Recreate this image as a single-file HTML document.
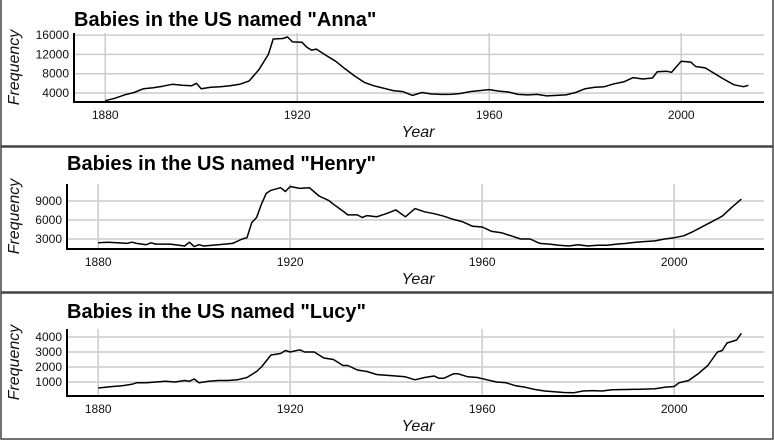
<!DOCTYPE html>
<html><head><meta charset="utf-8"><style>
body{margin:0;background:#fff;width:774px;height:440px;overflow:hidden;font-family:"Liberation Sans",sans-serif}
svg{display:block}
</style></head><body>
<svg id="c" width="774" height="440" xmlns="http://www.w3.org/2000/svg"></svg>
<script>
const annaYears=[1880,1882,1884,1886,1888,1890,1892,1894,1896,1898,1899,1900,1902,1904,1906,1908,1910,1912,1914,1915,1917,1918,1919,1921,1922,1923,1924,1926,1928,1930,1932,1934,1936,1938,1940,1942,1944,1946,1948,1950,1952,1954,1956,1958,1960,1962,1964,1966,1968,1970,1972,1974,1976,1978,1980,1982,1984,1986,1988,1990,1992,1994,1995,1997,1998,2000,2002,2003,2005,2007,2009,2011,2013,2014];
const annaValues=[2400,2900,3600,4100,4900,5100,5400,5800,5600,5500,6000,4900,5200,5300,5500,5800,6500,8800,12000,15200,15300,15600,14600,14500,13500,12900,13100,11800,10600,9000,7500,6200,5500,5000,4500,4300,3500,4100,3800,3700,3700,3900,4300,4500,4700,4400,4200,3700,3600,3700,3400,3500,3600,4100,4900,5200,5300,5900,6300,7200,6900,7100,8400,8500,8300,10600,10400,9500,9200,8000,6800,5700,5300,5600];
const henryYears=[1880,1882,1884,1886,1887,1888,1890,1891,1892,1895,1898,1899,1900,1901,1902,1905,1908,1910,1911,1912,1913,1914,1915,1916,1918,1919,1920,1922,1924,1926,1928,1929,1931,1932,1934,1935,1936,1938,1940,1942,1944,1946,1948,1950,1952,1954,1956,1958,1960,1962,1964,1966,1968,1970,1972,1974,1976,1978,1980,1982,1984,1986,1988,1990,1992,1994,1996,1998,2000,2002,2004,2006,2008,2010,2012,2014];
const henryValues=[2400,2500,2400,2300,2500,2300,2100,2400,2200,2200,1900,2500,1800,2100,1900,2100,2300,3000,3200,5600,6400,8500,10200,10700,11100,10500,11300,11000,11100,9800,9100,8500,7400,6800,6800,6400,6700,6500,7000,7600,6500,7800,7300,7000,6600,6100,5700,5000,4900,4200,4000,3500,3000,3000,2300,2200,2000,1900,2100,1900,2000,2000,2200,2300,2500,2600,2700,3000,3200,3500,4200,5000,5800,6600,8000,9300];
const lucyYears=[1880,1883,1885,1887,1888,1890,1892,1894,1896,1898,1899,1900,1901,1903,1905,1907,1909,1911,1913,1914,1915,1916,1918,1919,1920,1922,1923,1925,1927,1929,1931,1932,1934,1936,1938,1940,1942,1944,1946,1948,1950,1951,1952,1954,1955,1957,1959,1961,1963,1965,1967,1969,1971,1973,1975,1977,1979,1981,1983,1985,1987,1990,1993,1996,1998,2000,2001,2003,2005,2007,2009,2010,2011,2013,2014];
const lucyValues=[600,700,750,850,950,950,1000,1050,1000,1100,1050,1200,950,1050,1100,1100,1150,1300,1700,2000,2400,2800,2900,3100,3000,3150,3000,3000,2600,2500,2100,2100,1800,1700,1500,1450,1400,1350,1150,1300,1400,1250,1250,1550,1550,1350,1300,1150,1000,950,750,650,500,400,350,300,280,400,430,400,480,500,520,550,650,700,950,1100,1550,2100,3000,3100,3600,3800,4250];
const xTicks=[1880,1920,1960,2000];
const annaTicks=[4000,8000,12000,16000];
const henryTicks=[3000,6000,9000];
const lucyTicks=[1000,2000,3000,4000];

const NS="http://www.w3.org/2000/svg";
const svg=document.getElementById('c');
function mk(tag,attrs,parent,text){const e=document.createElementNS(NS,tag);for(const k in attrs)e.setAttribute(k,attrs[k]);if(text!==undefined)e.textContent=text;(parent||svg).appendChild(e);return e;}

function panel(key,name,years,values,ticks,P){
  const g=mk('g',{});
  
  
  const bg=mk('rect',{x:P.bx,y:P.by,width:P.bw,height:P.bh,fill:'#fff',stroke:'#444','stroke-width':1.5},g);
  
  
  const xs=y=>P.left+(y-1873.5)*4.8;
  const ys=v=>P.y0+(v-P.v0)*P.k;
  for(const t of ticks){
    const gl=mk('line',{x1:P.left,x2:P.right,y1:ys(t),y2:ys(t),stroke:'#cccccc','stroke-width':1.5},g);
    
    
    const tl=mk('text',{x:P.left-5,y:ys(t)+4,'text-anchor':'end','font-size':12,fill:'#111'},g,String(t));
    
    
  }
  for(const t of xTicks){
    const gl=mk('line',{x1:xs(t),x2:xs(t),y1:P.top,y2:P.axisY,stroke:'#cccccc','stroke-width':1.5},g);
    
    
    const tl=mk('text',{x:xs(t),y:P.axisY+17,'text-anchor':'middle','font-size':12,fill:'#111'},g,String(t));
    
    
  }
  const d=years.map((y,i)=>(i?'L':'M')+xs(y).toFixed(1)+','+ys(values[i]).toFixed(1)).join('');
  const ln=mk('path',{d:d,fill:'none',stroke:'#000','stroke-width':1.5,'stroke-linejoin':'round'},g);
  
  
  const ax=mk('path',{d:`M${P.left},${P.top}V${P.axisY}H${P.right}`,fill:'none',stroke:'#000','stroke-width':2},g);
  
  
  const ti=mk('text',{x:P.left,y:P.titleY,'font-size':20,'font-weight':'bold',fill:'#000'},g,'Babies in the US named "'+name+'"');
  
  
  const xl=mk('text',{x:418,y:P.axisY+35,'text-anchor':'middle','font-size':16,'font-style':'italic',fill:'#111'},g,'Year');
  
  
  const cy=(P.top+P.axisY)/2;
  const yl=mk('text',{x:0,y:0,transform:`translate(19,${cy}) rotate(-90)`,'text-anchor':'middle','font-size':16,'font-style':'italic',fill:'#111'},g,'Frequency');
  
  
}
panel('anna','Anna',annaYears,annaValues,annaTicks,{bx:1,by:-1,bw:772,bh:147,left:74,right:764,top:33,axisY:102,y0:93,v0:4000,k:-19.3/4000,titleY:26});
panel('henry','Henry',henryYears,henryValues,henryTicks,{bx:1,by:147,bw:772,bh:145,left:67,right:764,top:184,axisY:249,y0:239,v0:3000,k:-6.33/1000,titleY:170});
panel('lucy','Lucy',lucyYears,lucyValues,lucyTicks,{bx:1,by:293,bw:772,bh:146,left:67,right:764,top:329,axisY:396,y0:382,v0:1000,k:-15/1000,titleY:318});
</script>
</body></html>
